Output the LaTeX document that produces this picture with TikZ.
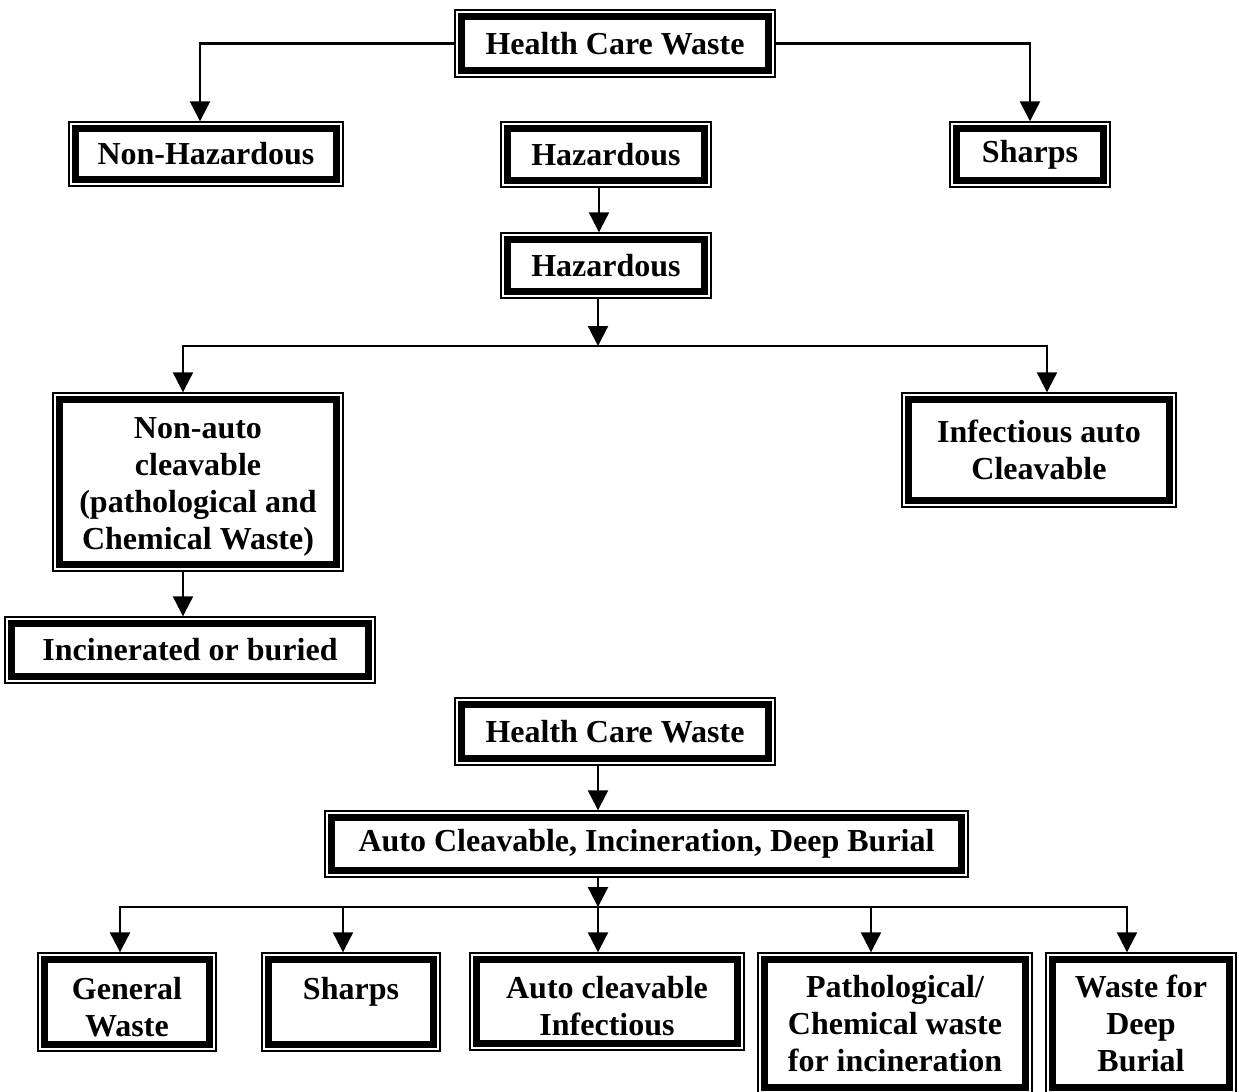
\documentclass[tikz,border=0pt]{standalone}
\usepackage{fontspec}
\setmainfont{Liberation Serif}
\usetikzlibrary{calc,arrows.meta}
\newcommand{\lowr}[1]{\rule{0pt}{#1}}
\tikzset{
  wbox/.style={draw, line width=0.7pt, fill=white, inner sep=0pt, align=center,
    font=\bfseries\fontsize{16pt}{18.5pt}\selectfont,
    path picture={\draw[line width=3.6pt]
      ($(path picture bounding box.south west)+(3.1pt,3.1pt)$) rectangle
      ($(path picture bounding box.north east)-(3.1pt,3.1pt)$);}},
  arr/.style={line width=1.1pt, -{Triangle[width=10pt,length=10pt]}},
}
\begin{document}
\begin{tikzpicture}[x=0.5pt,y=-0.5pt]
\useasboundingbox (0,0) rectangle (1239,1092);
% top diagram
\node[wbox, minimum width=160pt, minimum height=33.5pt] (hcw1) at (615,43.5) {Health Care Waste};
\node[wbox, minimum width=137pt, minimum height=32pt] (nonhaz) at (206,154) {Non-Hazardous};
\node[wbox, minimum width=105pt, minimum height=32.5pt] (haz1) at (606,154.5) {Hazardous};
\node[wbox, minimum width=80pt, minimum height=32.5pt] (sharps1) at (1030,154.5) {Sharps};
\node[wbox, minimum width=105pt, minimum height=32.5pt] (haz2) at (606,265.5) {Hazardous};
\node[wbox, minimum width=145pt, minimum height=89pt] (nonauto) at (198,482) {\lowr{15pt}Non-auto\\cleavable\\(pathological and\\Chemical Waste)};
\node[wbox, minimum width=137pt, minimum height=57pt] (infect) at (1039,450) {Infectious auto\\Cleavable};
\node[wbox, minimum width=185pt, minimum height=33pt] (incin) at (190,650) {Incinerated or buried};
\coordinate (j1) at (598,346);

\draw[arr] (hcw1.west) -| ([xshift=-3pt]nonhaz.north);
\draw[arr] (hcw1.east) -| (sharps1.north);
\draw[arr] ([xshift=-3.5pt]haz1.south) -- ([xshift=-3.5pt]haz2.north);
\draw[arr] (haz2.south -| j1) -- (j1);
\draw[arr] (j1) -| ([xshift=-7.5pt]nonauto.north);
\draw[arr] (j1) -| ([xshift=4pt]infect.north);
\draw[arr] ([xshift=-7.5pt]nonauto.south) -- ([xshift=-7.5pt]nonauto.south |- incin.north);

% bottom diagram
\node[wbox, minimum width=160pt, minimum height=33.5pt] (hcw2) at (615,731.5) {Health Care Waste};
\node[wbox, minimum width=321.5pt, minimum height=33pt] (acid) at (646.5,844) {Auto Cleavable, Incineration, Deep Burial};
\node[wbox, minimum width=89pt, minimum height=49pt] (gen) at (127,1002) {\lowr{16pt}General\\Waste};
\node[wbox, minimum width=89pt, minimum height=49pt] (sharps2) at (351,1002) {\lowr{16pt}Sharps\\~};
\node[wbox, minimum width=137pt, minimum height=48.5pt] (autoinf) at (607,1001.5) {\lowr{16pt}Auto cleavable\\Infectious};
\node[wbox, minimum width=137pt, minimum height=70.5pt] (path) at (895,1023.5) {Pathological/\\Chemical waste\\for incineration};
\node[wbox, minimum width=95pt, minimum height=70.5pt] (deep) at (1141,1023.5) {Waste for\\Deep\\Burial};
\coordinate (j2) at (598,907);

\draw[arr] ([xshift=-8.5pt]hcw2.south) -- ([xshift=-8.5pt]hcw2.south |- acid.north);
\draw[arr] (acid.south -| j2) -- (j2);
\draw[arr] (j2) -| ([xshift=-3.5pt]gen.north);
\draw[arr] (j2) -| ([xshift=-4pt]sharps2.north);
\draw[arr] (j2) -- (j2 |- autoinf.north);
\draw[arr] (j2) -| ([xshift=-12pt]path.north);
\draw[arr] (j2) -| ([xshift=-7pt]deep.north);
\end{tikzpicture}
\end{document}
